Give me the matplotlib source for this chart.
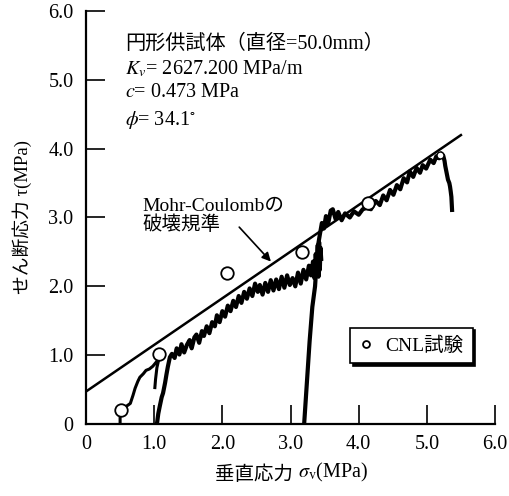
import numpy as np
import matplotlib
matplotlib.use("Agg")
import matplotlib.pyplot as plt

plt.rcParams["font.family"] = ["Liberation Serif", "Noto Sans CJK JP"]
plt.rcParams["mathtext.fontset"] = "stix"

# specimen / strength parameters
c_mpa = 0.473
phi_deg = 34.1

# first loading (starts at sigma = 0.5)
sig1 = [0.50, 0.50, 0.53, 0.58, 0.65, 0.69, 0.72, 0.76, 0.79, 0.84, 0.88, 0.93, 0.98, 1.03, 1.07, 1.04, 1.02, 1.01]
tau1 = [0.00, 0.10, 0.20, 0.25, 0.30, 0.42, 0.52, 0.62, 0.68, 0.73, 0.78, 0.80, 0.84, 0.90, 0.95, 0.82, 0.65, 0.53]

# second loading (starts at sigma = 1.04), noisy band up to ~3.45
sig2 = [1.04, 1.06, 1.08, 1.11, 1.13, 1.16, 1.18, 1.20, 1.23, 1.26, 1.30, 1.33, 1.37, 1.40, 1.44,
        1.48, 1.52, 1.55, 1.59, 1.62, 1.66, 1.70, 1.73, 1.77, 1.81, 1.85, 1.89, 1.92, 1.96, 2.00,
        2.04, 2.08, 2.12, 2.16, 2.20, 2.24, 2.28, 2.32, 2.36, 2.40, 2.44, 2.48, 2.52, 2.55, 2.59,
        2.63, 2.67, 2.71, 2.75, 2.79, 2.83, 2.87, 2.91, 2.95, 2.99, 3.03, 3.07, 3.11, 3.15, 3.19,
        3.23, 3.27, 3.30, 3.33, 3.35, 3.37, 3.39, 3.40, 3.41, 3.42, 3.43, 3.44, 3.45]
tau2 = [0.00, 0.15, 0.25, 0.39, 0.45, 0.60, 0.72, 0.83, 0.97, 1.02, 0.96, 1.10, 1.01, 1.16, 1.04,
        1.15, 1.22, 1.10, 1.26, 1.30, 1.18, 1.35, 1.28, 1.42, 1.32, 1.48, 1.42, 1.58, 1.48, 1.64,
        1.56, 1.72, 1.64, 1.79, 1.70, 1.86, 1.76, 1.92, 1.82, 1.97, 1.86, 2.04, 1.92, 2.02, 1.88,
        2.05, 1.92, 2.09, 1.94, 2.10, 1.96, 2.14, 1.98, 2.16, 2.02, 2.12, 2.00, 2.20, 2.04, 2.24,
        2.10, 2.30, 2.16, 2.36, 2.12, 2.47, 2.18, 2.60, 2.14, 2.64, 2.24, 2.56, 2.40]

# third loading (starts at sigma = 3.2), reaching peak near 5.2 then dropping
sig3 = [3.20, 3.24, 3.28, 3.32, 3.36, 3.38, 3.40, 3.43, 3.46, 3.49, 3.52, 3.55, 3.59, 3.62, 3.66,
        3.70, 3.75, 3.80, 3.87, 3.93, 4.00, 4.06, 4.12, 4.18, 4.25, 4.31, 4.36, 4.41, 4.46, 4.51,
        4.56, 4.61, 4.66, 4.71, 4.75, 4.80, 4.85, 4.90, 4.94, 4.99, 5.05, 5.10, 5.14, 5.18, 5.21,
        5.24, 5.26, 5.27, 5.29, 5.31, 5.33, 5.34, 5.35, 5.36, 5.37]
tau3 = [0.00, 0.60, 1.20, 1.70, 2.00, 2.30, 2.57, 2.75, 2.92, 2.84, 3.02, 2.90, 3.10, 3.12, 2.98,
        3.08, 2.96, 3.06, 3.00, 3.09, 3.04, 3.12, 3.14, 3.12, 3.24, 3.18, 3.32, 3.25, 3.40, 3.33,
        3.47, 3.41, 3.57, 3.51, 3.67, 3.59, 3.72, 3.65, 3.76, 3.71, 3.84, 3.79, 3.89, 3.86, 3.93,
        3.90, 3.82, 3.75, 3.65, 3.55, 3.50, 3.45, 3.38, 3.30, 3.11]

# CNL test points
cnl_sig = [0.52, 1.07, 2.07, 3.17, 4.13]
cnl_tau = [0.20, 1.02, 2.19, 2.50, 3.21]
cnl_end_sig = [5.19]
cnl_end_tau = [3.91]

fig = plt.figure(figsize=(5.09, 4.96), dpi=100)
ax = fig.add_axes([0.169, 0.145, 0.8035, 0.833])

# Mohr-Coulomb criterion
mc_sig = np.array([0.0, 5.5])
mc_tau = c_mpa + mc_sig * np.tan(np.radians(phi_deg))
ax.plot(mc_sig, mc_tau, color="black", lw=1.8, zorder=3)

ax.plot(sig1, tau1, color="black", lw=2.2, zorder=2)
ax.plot(sig2, tau2, color="black", lw=3.0, zorder=2)
ax.plot(sig3, tau3, color="black", lw=3.0, zorder=2)

ax.plot(cnl_sig, cnl_tau, "o", ms=9, mfc="white", mec="black", mew=1.3, zorder=4,
        label="CNL試験")
ax.plot(cnl_end_sig, cnl_end_tau, "o", ms=5, mfc="white", mec="black", mew=1.0, zorder=4)

ax.set_xlim(0, 6.0)
ax.set_ylim(0, 6.0)
ticks = [0, 1, 2, 3, 4, 5, 6]
tick_labels = ["0", "1.0", "2.0", "3.0", "4.0", "5.0", "6.0"]
ax.set_xticks(ticks)
ax.set_xticklabels(tick_labels)
ax.set_yticks(ticks)
ax.set_yticklabels(tick_labels)
ax.tick_params(direction="in", length=14, width=1.2, labelsize=14.5)
ax.tick_params(axis="y", pad=9)
ax.tick_params(axis="x", pad=8)
for side in ["top", "right"]:
    ax.spines[side].set_visible(False)
for side in ["left", "bottom"]:
    ax.spines[side].set_linewidth(1.6)

# axis labels (CJK part as plain text, symbol part as mathtext)
ax.set_ylabel("せん断応力 τ(MPa)", fontsize=13.5, labelpad=12)
xl1 = fig.text(0.422, 0.032, "垂直応力 ", fontsize=14, ha="left", va="baseline")
ax.annotate(r"$\sigma_{\rm v}$(MPa)", xy=(1, 0), xycoords=xl1, fontsize=14.5,
            ha="left", va="bottom")

# parameter block
ax.text(0.57, 5.51, "円形供試体（直径=50.0mm）", fontsize=14.5, va="center")
ax.text(0.57, 5.15, r"$K_v$= 2627.200 MPa/m", fontsize=14.5, va="center")
ax.text(0.57, 4.82, r"$c$= 0.473 MPa", fontsize=14.5, va="center")
ax.text(0.57, 4.42, r"$\phi$= 34.1$^{\circ}$", fontsize=14.5, va="center")

ax.text(0.83, 3.03, "Mohr-Coulombの\n破壊規準", fontsize=14, va="center", ha="left",
        linespacing=1.05)
ax.annotate("", xy=(2.74, 2.33), xytext=(2.22, 2.89),
            arrowprops=dict(arrowstyle="-|>", color="black", lw=1.2, mutation_scale=13))

leg = ax.legend(loc="center", bbox_to_anchor=(0.795, 0.19), fontsize=14, frameon=True,
                fancybox=False, edgecolor="black", markerscale=0.55, handlelength=0.8,
                handletextpad=0.6, borderpad=0.45,
                shadow={"color": "black", "alpha": 1.0, "ox": 2, "oy": -2})
leg.get_frame().set_linewidth(1.2)

fig.savefig("out.png", dpi=100)
